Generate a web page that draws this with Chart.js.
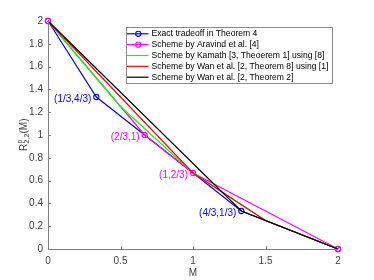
<!DOCTYPE html>
<html>
<head>
<meta charset="utf-8">
<script src="https://cdn.jsdelivr.net/npm/chart.js@4/dist/chart.umd.min.js"></script>
<style>
html,body{margin:0;padding:0;background:#fff;}
#wrap{width:374px;height:280px;}
</style>
</head>
<body>
<div id="wrap"><canvas id="c" width="374" height="280"></canvas></div>
<script>
// ---- data ----
const seriesNames = [
  "Exact tradeoff in Theorem 4",
  "Scheme by Aravind et al. [4]",
  "Scheme by Kamath [3, Theoerem 1] using [8]",
  "Scheme by Wan et al. [2, Theorem 8] using [1]",
  "Scheme by Wan et al. [2, Theorem 2]"
];
const seriesColors = ["#0000ff", "#ff00ff", "#00ff00", "#ff0000", "#000000"];
const seriesMarkers = [true, true, false, false, false];

const exactM   = [0, 1/3, 4/3, 2];
const exactR   = [2, 4/3, 1/3, 0];
const aravindM = [0, 2/3, 1, 2];
const aravindR = [2, 1, 2/3, 0];
const kamathM  = [0, 0.5, 1, 1.5, 2];
const kamathR  = [2, 1.25, 2/3, 0.25, 0];
const wan8M    = [0, 1, 1.5, 2];
const wan8R    = [2, 2/3, 0.25, 0];
const wan2M    = [0, 4/3, 2];
const wan2R    = [2, 1/3, 0];

const xTicks = [0, 0.5, 1, 1.5, 2];
const yTicks = [0, 0.2, 0.4, 0.6, 0.8, 1, 1.2, 1.4, 1.6, 1.8, 2];

const noteText  = ["(1/3,4/3)", "(2/3,1)", "(1,2/3)", "(4/3,1/3)"];
const noteM     = [1/3, 2/3, 1, 4/3];
const noteR     = [4/3, 1, 2/3, 1/3];
const noteColor = ["#0000ff", "#ff00ff", "#ff00ff", "#0000ff"];

const xTitle = "M";

// ---- build ----
const allM = [exactM, aravindM, kamathM, wan8M, wan2M];
const allR = [exactR, aravindR, kamathR, wan8R, wan2R];
const FONT = "'Liberation Sans', Arial, Helvetica, sans-serif";

const datasets = seriesNames.map((name, i) => ({
  label: name,
  data: allM[i].map((m, j) => ({x: m, y: allR[i][j]})),
  showLine: true,
  borderColor: seriesColors[i],
  backgroundColor: 'rgba(0,0,0,0)',
  borderWidth: 1.2,
  pointRadius: seriesMarkers[i] ? 2.6 : 0,
  pointBorderWidth: 1.1,
  pointBorderColor: seriesColors[i],
  pointBackgroundColor: 'rgba(0,0,0,0)',
  pointHoverRadius: 0,
  tension: 0,
  clip: false,
  order: seriesNames.length - i
}));

const decor = {
  id: 'decor',
  afterDraw(chart) {
    const ctx = chart.ctx;
    const xs = chart.scales.x, ys = chart.scales.y;
    const ca = chart.chartArea;
    ctx.save();
    // axis lines
    ctx.strokeStyle = '#808080';
    ctx.lineWidth = 1;
    ctx.beginPath();
    ctx.moveTo(ca.left + 0.5, ca.top);
    ctx.lineTo(ca.left + 0.5, ca.bottom + 0.5);
    ctx.lineTo(ca.right, ca.bottom + 0.5);
    ctx.stroke();
    // inward ticks
    ctx.beginPath();
    xTicks.forEach(v => {
      const px = Math.round(xs.getPixelForValue(v)) + 0.5;
      ctx.moveTo(px, ca.bottom);
      ctx.lineTo(px, ca.bottom - 3);
    });
    yTicks.forEach(v => {
      const py = Math.round(ys.getPixelForValue(v)) + 0.5;
      ctx.moveTo(ca.left, py);
      ctx.lineTo(ca.left + 3, py);
    });
    ctx.stroke();

    // point annotations
    ctx.font = '10px ' + FONT;
    ctx.textAlign = 'right';
    ctx.textBaseline = 'middle';
    noteText.forEach((t, i) => {
      const px = xs.getPixelForValue(noteM[i]);
      const py = ys.getPixelForValue(noteR[i]);
      ctx.fillStyle = noteColor[i];
      ctx.fillText(t, px - 5, py + 2.5);
    });

    // x title
    ctx.fillStyle = '#404040';
    ctx.textAlign = 'center';
    ctx.font = '10px ' + FONT;
    ctx.fillText(xTitle, (ca.left + ca.right) / 2, 273);

    // y title R^p_{2,2}(M)
    ctx.save();
    ctx.translate(23, (ca.top + ca.bottom) / 2);
    ctx.rotate(-Math.PI / 2);
    ctx.textAlign = 'left';
    ctx.textBaseline = 'alphabetic';
    const big = '10px ' + FONT, small = '7px ' + FONT;
    ctx.font = big; const wR = ctx.measureText('R').width;
    const wM = ctx.measureText('(M)').width;
    ctx.font = small; const wp = ctx.measureText('p').width;
    const w22 = ctx.measureText('2,2').width;
    const wS = Math.max(wp, w22);
    const total = wR + wS + wM;
    let x0 = -total / 2;
    const base = 3.5;
    ctx.font = big; ctx.fillText('R', x0, base);
    ctx.font = small;
    ctx.fillText('p', x0 + wR + 0.3, base - 4.5);
    ctx.fillText('2,2', x0 + wR + 0.3, base + 2.5);
    ctx.font = big; ctx.fillText('(M)', x0 + wR + wS + 0.5, base);
    ctx.restore();

    // legend
    const L = 126, T = 27, R = 332, B = 83;
    ctx.fillStyle = '#ffffff';
    ctx.fillRect(L, T, R - L, B - T);
    ctx.strokeStyle = '#8a8a8a';
    ctx.lineWidth = 1;
    ctx.strokeRect(L + 0.5, T + 0.5, R - L, B - T);
    ctx.font = '8.6px ' + FONT;
    ctx.textAlign = 'left';
    ctx.textBaseline = 'middle';
    seriesNames.forEach((name, i) => {
      const y = 33.8 + i * 10.85;
      ctx.strokeStyle = seriesColors[i];
      ctx.lineWidth = 1.2;
      ctx.beginPath();
      ctx.moveTo(127, y); ctx.lineTo(148.5, y);
      ctx.stroke();
      if (seriesMarkers[i]) {
        ctx.beginPath();
        ctx.arc(138.3, y, 2.6, 0, Math.PI * 2);
        ctx.lineWidth = 1.1;
        ctx.stroke();
      }
      ctx.fillStyle = '#000';
      ctx.fillText(name, 151.5, y + 0.3);
    });
    ctx.restore();
  }
};

new Chart(document.getElementById('c'), {
  type: 'scatter',
  data: { datasets },
  options: {
    responsive: false,
    animation: false,
    events: [],
    layout: { padding: { top: 21, right: 36, left: 0, bottom: 0 } },
    plugins: { legend: { display: false }, tooltip: { enabled: false } },
    scales: {
      x: {
        type: 'linear', min: 0, max: 2,
        afterBuildTicks: s => { s.ticks = xTicks.map(v => ({value: v})); },
        afterFit: s => { s.height = 31; },
        grid: { display: false, drawTicks: false },
        border: { display: false },
        ticks: {
          padding: 6,
          color: '#404040',
          font: { family: FONT, size: 10 },
          callback: v => String(v),
          maxRotation: 0
        }
      },
      y: {
        type: 'linear', min: 0, max: 2,
        afterBuildTicks: s => { s.ticks = yTicks.map(v => ({value: v})); },
        afterFit: s => { s.width = 48; },
        grid: { display: false, drawTicks: false },
        border: { display: false },
        ticks: {
          padding: 5,
          color: '#404040',
          font: { family: FONT, size: 10 },
          callback: v => String(Number(v.toFixed(1)))
        }
      }
    }
  },
  plugins: [decor]
});
</script>
</body>
</html>
